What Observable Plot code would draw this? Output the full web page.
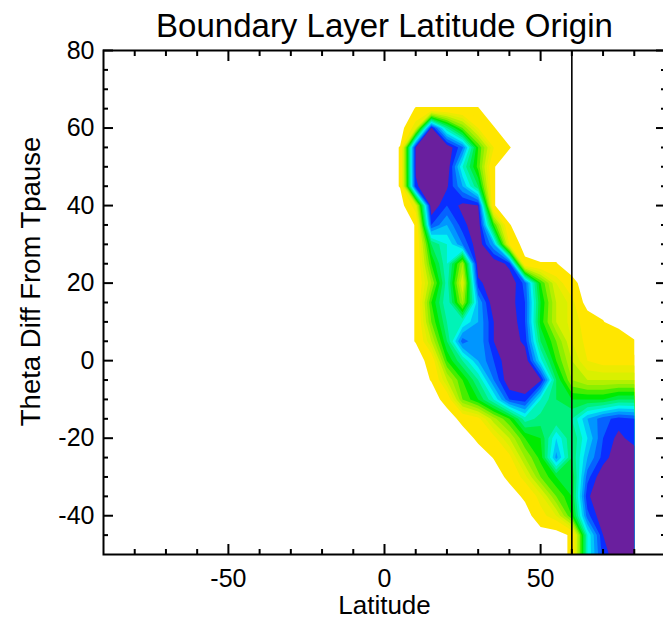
<!DOCTYPE html>
<html>
<head>
<meta charset="utf-8">
<script src="https://cdn.jsdelivr.net/npm/d3@7"></script>
<script src="https://cdn.jsdelivr.net/npm/@observablehq/plot@0.6"></script>
<style>
  html, body { margin: 0; padding: 0; background: #fff; overflow: hidden; }
</style>
</head>
<body>
<div id="chart"></div>
<script>
// Text
const title = "Boundary Layer Latitude Origin";
const xLabel = "Latitude";
const yLabel = "Theta Diff From Tpause";

// Grid coordinates of the origin-density field
const latitudes = [0, 5, 10, 15, 20, 25, 30, 35, 40, 45, 50, 55, 60, 65, 70, 75, 80];
const thetas = [70, 65, 60, 55, 50, 45, 40, 35, 30, 25, 20, 15, 10, 5, 0, -5, -10, -15, -20, -25, -30, -35, -40, -45, -50];

// Density level at each (theta, latitude) node; one row per theta, 0 = no parcels
const density = [
  [0, 0, 0,    0,   0,   0,   0,   0,    0,    0,   0,    0,    0,   0,   0,   0,   0   ], //  70
  [0, 0, 0.55, 0.55,0.55,0.55,0.55,0,    0,    0,   0,    0,    0,   0,   0,   0,   0   ], //  65
  [0, 0, 2,    8.6, 5.5, 3.5, 1.5, 0.55, 0,    0,   0,    0,    0,   0,   0,   0,   0   ], //  60
  [0, 0.55, 8.6, 9, 9,   7.6, 4,   1.5,  0.55, 0,   0,    0,    0,   0,   0,   0,   0   ], //  55
  [0, 0.55, 8.6, 9, 9,   6,   3.8, 0.55, 0,    0,   0,    0,    0,   0,   0,   0,   0   ], //  50
  [0, 0.55, 8.4, 9, 8.6, 7,   5,   0.55, 0,    0,   0,    0,    0,   0,   0,   0,   0   ], //  45
  [0, 0, 2,    9,   8,   8.7, 8.5, 0.55, 0,    0,   0,    0,    0,   0,   0,   0,   0   ], //  40
  [0, 0, 0.55, 8,   7,   8.3, 9,   4,    0.55, 0,   0,    0,    0,   0,   0,   0,   0   ], //  35
  [0, 0, 0.55, 5,   6,   7.5, 9,   7,    1.5,  0,   0,    0,    0,   0,   0,   0,   0   ], //  30
  [0, 0, 0.55, 4,   6,   3,   9,   9,    8.3,  0.8, 0.55, 0.55, 0,   0,   0,   0,   0   ], //  25
  [0, 0, 0.55, 3,   5.8, 2,   8.3, 9,    9,    7.8, 4,    2,    0.8, 0,   0,   0,   0   ], //  20
  [0, 0, 0.55, 4,   6,   3,   7,   9,    8.8,  8,   4.5,  2.5,  1.8, 0,   0,   0,   0   ], //  15
  [0, 0, 0.55, 3.5, 5.5, 6,   7,   8.5,  9,    8,   4.3,  2.5,  1.8, 1.2, 0.55,0,   0   ], //  10
  [0, 0, 0.55, 2.5, 5,   7.8, 7,   8.5,  9,    8.3, 5,    3.5,  2,   1.3, 1.2, 1.4, 0.55], //   5
  [0, 0, 0,    0.9, 4,   5.5, 7,   8,    9,    9,   6.2,  4,    2.5, 1.5, 1.2, 1.2, 1.2 ], //   0
  [0, 0, 0,    0.55,2.5, 4,   5.5, 7.5,  9,    9,   8.6,  5,    3,   2.5, 2.5, 2.5, 2.5 ], //  -5
  [0, 0, 0,    0,   0.9, 3.5, 4.5, 6,    8,    8.3, 6,    5,    4.5, 4.5, 4.5, 5,   5   ], // -10
  [0, 0, 0,    0,   0,   0.8, 1.3, 2.8,  4,    5.8, 5.3,  5,    5.5, 7,   7.8, 8.2, 8   ], // -15
  [0, 0, 0,    0,   0,   0,   0.7, 1.3,  2.5,  4,   4.5,  6.5,  5,   6.5, 8,   8.7, 8.2 ], // -20
  [0, 0, 0,    0,   0,   0,   0,   0.55, 1.3,  3,   4.2,  7.2,  5,   7,   8.2, 9,   9   ], // -25
  [0, 0, 0,    0,   0,   0,   0,   0,    0.75, 1.8, 3.5,  4.5,  4.5, 7.8, 9,   9,   9   ], // -30
  [0, 0, 0,    0,   0,   0,   0,   0,    0,    0.7, 1.8,  3.5,  4.5, 8.4, 9,   9,   9   ], // -35
  [0, 0, 0,    0,   0,   0,   0,   0,    0,    0,   1.2,  2,    4,   7.8, 9,   9,   9   ], // -40
  [0, 0, 0,    0,   0,   0,   0,   0,    0,    0,   0,    0,    0.7, 6,   8.5, 9,   9   ], // -45
  [0, 0, 0,    0,   0,   0,   0,   0,    0,    0,   0,    0,    0.7, 6,   8.2, 9,   9   ]  // -50
];

// Filled contour levels and their colours
const thresholds = [0.5, 1, 1.5, 2, 2.5, 3, 3.5, 4, 4.5, 5, 5.5, 6, 6.5, 7, 7.5, 8, 8.5];
const levelStops = [1, 2, 3, 4, 5, 6, 7, 8, 8.5];
const levelColors = ["#ffe600", "#d9f000", "#8cf000", "#00eb00", "#00f07d", "#00f5f0", "#0096ff", "#0a2dff", "#6a1f9e"];

// Axes
const xDomain = [-90, 90];
const yDomain = [-50, 80];
const xMajor = [-50, 0, 50];
const xMinor = [-80, -70, -60, -40, -30, -20, -10, 10, 20, 30, 40, 60, 70, 80];
const yMajor = [-40, -20, 0, 20, 40, 60, 80];
const yMinor = [-45, -35, -30, -25, -15, -10, -5, 5, 10, 15, 25, 30, 35, 45, 50, 55, 65, 70, 75];

// Reference latitude marked by a vertical line
const markerLat = [60];

const dLat = latitudes[1] - latitudes[0];
const dTheta = thetas[0] - thetas[1];
const plain = d => `${d}`; // hyphen-minus on the tick labels

const chart = Plot.plot({
  width: 663,
  height: 620,
  marginLeft: 103,
  marginRight: -2,
  marginTop: 50,
  marginBottom: 66,
  x: { domain: xDomain },
  y: { domain: yDomain },
  color: { type: "linear", domain: levelStops, range: levelColors, interpolate: "rgb", clamp: true },
  style: { fontFamily: "'Liberation Sans', Arial, Helvetica, sans-serif", color: "black", background: "white" },
  marks: [
    Plot.contour(density.flat(), {
      width: latitudes.length,
      height: thetas.length,
      x1: latitudes[0] - dLat / 2,
      x2: latitudes[latitudes.length - 1] + dLat / 2,
      y1: thetas[0] + dTheta / 2,
      y2: thetas[thetas.length - 1] - dTheta / 2,
      fill: Plot.identity,
      thresholds
    }),
    Plot.ruleX(markerLat, { stroke: "black", strokeWidth: 1.6 }),
    // inward ticks on all four sides
    Plot.axisX(xMajor, { anchor: "bottom", tickSize: -10, strokeWidth: 2, tickFormat: () => "", label: null }),
    Plot.axisX(xMinor, { anchor: "bottom", tickSize: -5, strokeWidth: 2, tickFormat: () => "", label: null }),
    Plot.axisX(xMajor, { anchor: "top", tickSize: -10, strokeWidth: 2, tickFormat: () => "", label: null }),
    Plot.axisX(xMinor, { anchor: "top", tickSize: -5, strokeWidth: 2, tickFormat: () => "", label: null }),
    Plot.axisY(yMajor, { anchor: "left", tickSize: -10, strokeWidth: 2, tickFormat: () => "", label: null }),
    Plot.axisY(yMinor, { anchor: "left", tickSize: -5, strokeWidth: 2, tickFormat: () => "", label: null }),
    Plot.axisY(yMajor, { anchor: "right", tickSize: -10, strokeWidth: 2, tickFormat: () => "", label: null }),
    Plot.axisY(yMinor, { anchor: "right", tickSize: -5, strokeWidth: 2, tickFormat: () => "", label: null }),
    // tick labels
    Plot.axisX(xMajor, { anchor: "bottom", tickSize: 0, tickPadding: 15, fontSize: 25, tickFormat: plain, label: null }),
    Plot.axisY(yMajor, { anchor: "left", tickSize: 0, tickPadding: 9, fontSize: 25, tickFormat: plain, label: null }),
    Plot.frame({ stroke: "black", strokeWidth: 2 }),
    // titles
    Plot.text([title], { frameAnchor: "top", dy: -37, fontSize: 33, text: d => d }),
    Plot.text([xLabel], { frameAnchor: "bottom", dy: 59, fontSize: 26, text: d => d }),
    Plot.text([yLabel], { frameAnchor: "left", dx: -72, dy: -21, rotate: -90, textAnchor: "middle", fontSize: 27.5, text: d => d })
  ]
});

// keep the filled field inside the sampled latitude range
const ns = "http://www.w3.org/2000/svg";
const xs = chart.scale("x"), ys = chart.scale("y");
const clip = document.createElementNS(ns, "clipPath");
clip.setAttribute("id", "field-extent");
const clipRect = document.createElementNS(ns, "rect");
const clipLeft = xs.apply(xDomain[0]), clipRight = xs.apply(latitudes[latitudes.length - 1]);
const clipTop = ys.apply(yDomain[1]), clipBottom = ys.apply(yDomain[0]);
clipRect.setAttribute("x", clipLeft);
clipRect.setAttribute("y", clipTop);
clipRect.setAttribute("width", clipRight - clipLeft);
clipRect.setAttribute("height", clipBottom - clipTop);
clip.appendChild(clipRect);
const defs = document.createElementNS(ns, "defs");
defs.appendChild(clip);
chart.insertBefore(defs, chart.firstChild);
const field = chart.querySelector('g[aria-label="contour"]');
if (field) field.setAttribute("clip-path", "url(#field-extent)");

document.getElementById("chart").appendChild(chart);
</script>
</body>
</html>
